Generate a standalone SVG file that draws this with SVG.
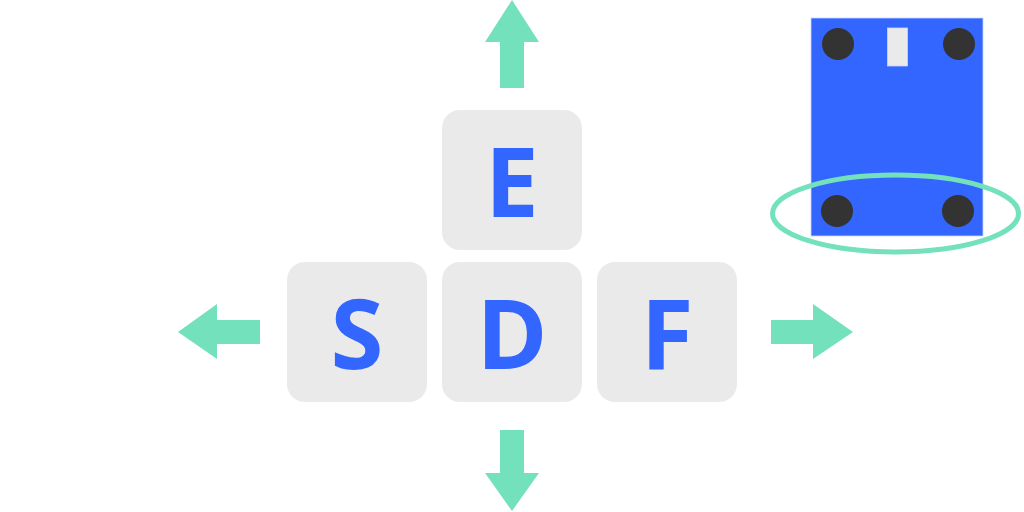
<svg xmlns="http://www.w3.org/2000/svg" width="1024" height="512" viewBox="0 0 1024 512">
<style>
.key{fill:#EAEAEA}
.lbl{font-family:"Open Sans","Liberation Sans",sans-serif;font-weight:bold;font-size:96px;fill:#3366FF;text-anchor:middle}
.arr{fill:#74E1BD}
.hole{fill:#333333}
</style>
<rect width="1024" height="512" fill="#FFFFFF"/>
<g id="connectors">
<polygon class="arr" points="512,0 539,42 524,42 524,88 500,88 500,42 485,42"/>
<polygon class="arr" points="512,511 539,473 524,473 524,430 500,430 500,473 485,473"/>
<polygon class="arr" points="178,332 217,304 217,320 260,320 260,344 217,344 217,359"/>
<polygon class="arr" points="853,332 813,304 813,320 771,320 771,344 813,344 813,359"/>
</g>
<g id="key-E"><rect class="key" x="442" y="110" width="140" height="140" rx="18"/><text class="lbl" x="512" y="217">E</text></g>
<g id="key-S"><rect class="key" x="287" y="262" width="140" height="140" rx="18"/><text class="lbl" x="357" y="369">S</text></g>
<g id="key-D"><rect class="key" x="442" y="262" width="140" height="140" rx="18"/><text class="lbl" x="512" y="369">D</text></g>
<g id="key-F"><rect class="key" x="597" y="262" width="140" height="140" rx="18"/><text class="lbl" x="667" y="369">F</text></g>
<g id="board">
<rect x="811" y="18" width="172" height="218" fill="#3366FF" stroke="#C8D4FF" stroke-width="0.8"/>
<rect x="887.5" y="28" width="20" height="38" fill="#EAEAEA" stroke="#C8D4FF" stroke-width="0.8"/>
<circle class="hole" cx="838" cy="44" r="16"/>
<circle class="hole" cx="959" cy="44" r="16"/>
<circle class="hole" cx="837" cy="211" r="16"/>
<circle class="hole" cx="958" cy="211" r="16"/>
<ellipse cx="895.5" cy="213.5" rx="123" ry="38.5" fill="none" stroke="#74E1BD" stroke-width="5"/>
</g>
</svg>
